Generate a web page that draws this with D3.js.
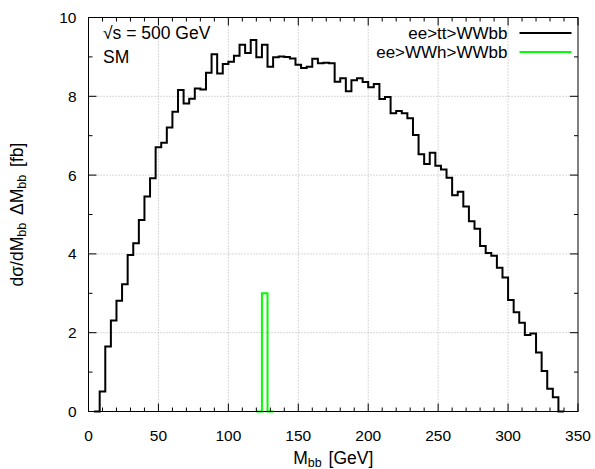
<!DOCTYPE html>
<meta charset="utf-8">
<script src="https://d3js.org/d3.v7.min.js"></script>
<style>
  body { margin: 0; background: #fff; }
  text { font-family: "Liberation Sans", Arial, sans-serif; fill: #000; }
</style>
<div id="my_dataviz"></div>
<script>

  // histogram: 4 GeV bins, first bin edge at 4 GeV
  var binWidth = 4;
  var ttStart = 4;
  var ttValues = [0,
    0.51, 1.65, 2.31, 2.81, 3.23, 3.97, 4.27, 4.86, 5.46, 5.92,
    6.71, 6.82, 7.21, 7.61, 8.16, 7.82, 7.94, 8.20, 8.17, 8.60,
    9.07, 8.58, 8.82, 8.88, 9.03, 9.31, 9.10, 9.43, 8.99, 9.31,
    8.75, 8.99, 9.01, 9.00, 8.96, 8.80, 8.72, 8.75, 8.95, 8.84,
    8.85, 8.84, 8.37, 8.46, 8.13, 8.41, 8.46, 8.36, 8.23, 8.31,
    7.93, 7.98, 7.57, 7.63, 7.57, 7.44, 7.02, 6.53,
    6.28, 6.57, 6.24, 6.14, 5.93, 5.49, 5.58, 5.20, 4.83, 4.64, 4.20, 4.02,
    3.95, 3.65, 3.40, 2.83, 2.52, 2.25, 1.94, 1.98, 1.50, 1.03, 0.58, 0.36,
    0];
  var whStart = 120;
  var whValues = [0, 3.0, 0];

  var xTicks = [0, 50, 100, 150, 200, 250, 300, 350];
  var yTicks = [0, 2, 4, 6, 8, 10];
  var seriesNames = ["ee>tt>WWbb", "ee>WWh>WWbb"];
  var seriesColors = ["#000000", "#00ff00"];

  var margin = { top: 17.5, right: 17, bottom: 57.5, left: 88.5 },
    width = 595 - margin.left - margin.right,
    height = 469 - margin.top - margin.bottom;

  var svg = d3.select("#my_dataviz")
    .append("svg")
    .attr("width", 595)
    .attr("height", 469)
    .append("g")
    .attr("transform", "translate(" + margin.left + "," + margin.top + ")");

  var x = d3.scaleLinear().domain([0, 350]).range([0, width]),
    y = d3.scaleLinear().domain([0, 10]).range([height, 0]);

  // grid
  svg.append("g")
    .selectAll("line")
    .data(xTicks.slice(1, -1))
    .enter().append("line")
    .attr("x1", function (d) { return x(d); }).attr("x2", function (d) { return x(d); })
    .attr("y1", 0).attr("y2", height)
    .attr("stroke", "#b0b0b0").attr("stroke-width", 1).attr("stroke-dasharray", "1,2");
  svg.append("g")
    .selectAll("line")
    .data(yTicks.slice(1, -1))
    .enter().append("line")
    .attr("y1", function (d) { return y(d); }).attr("y2", function (d) { return y(d); })
    .attr("x1", 0).attr("x2", width)
    .attr("stroke", "#b0b0b0").attr("stroke-width", 1).attr("stroke-dasharray", "1,2");

  // build step points from bins
  function stepPoints(start, values) {
    var pts = values.map(function (v, i) { return { x: start + i * binWidth, y: v }; });
    pts.push({ x: start + values.length * binWidth, y: values[values.length - 1] });
    return pts;
  }

  var stepLine = d3.line()
    .x(function (d) { return x(d.x); })
    .y(function (d) { return y(d.y); })
    .curve(d3.curveStepAfter);

  svg.append("path")
    .datum(stepPoints(whStart, whValues))
    .attr("d", stepLine)
    .attr("fill", "none")
    .attr("stroke", seriesColors[1])
    .attr("stroke-width", 2);

  svg.append("path")
    .datum(stepPoints(ttStart, ttValues))
    .attr("d", stepLine)
    .attr("fill", "none")
    .attr("stroke", seriesColors[0])
    .attr("stroke-width", 2);

  // frame with inward ticks (mirrored)
  var xMinor = d3.range(0, 351, 10), yMinor = d3.range(0, 10.01, 1);
  var ticks = svg.append("g").attr("stroke", "#000").attr("stroke-width", 1);
  xMinor.forEach(function (t) {
    var len = (t % 50 === 0) ? 8 : 4;
    ticks.append("line").attr("x1", x(t)).attr("x2", x(t)).attr("y1", height).attr("y2", height - len);
    ticks.append("line").attr("x1", x(t)).attr("x2", x(t)).attr("y1", 0).attr("y2", len);
  });
  yMinor.forEach(function (t) {
    var len = (t % 2 === 0) ? 8 : 4;
    ticks.append("line").attr("y1", y(t)).attr("y2", y(t)).attr("x1", 0).attr("x2", len);
    ticks.append("line").attr("y1", y(t)).attr("y2", y(t)).attr("x1", width).attr("x2", width - len);
  });
  svg.append("rect")
    .attr("width", width).attr("height", height)
    .attr("fill", "none").attr("stroke", "#000").attr("stroke-width", 1);

  // tick labels
  svg.append("g").selectAll("text").data(xTicks).enter().append("text")
    .attr("x", function (d) { return x(d); })
    .attr("y", height + 29)
    .attr("text-anchor", "middle")
    .style("font-size", "15.5px")
    .text(function (d) { return d; });
  svg.append("g").selectAll("text").data(yTicks).enter().append("text")
    .attr("x", -12)
    .attr("y", function (d) { return y(d) + 5.5; })
    .attr("text-anchor", "end")
    .style("font-size", "15.5px")
    .text(function (d) { return d; });

  // axis titles
  var xl = svg.append("text")
    .attr("x", width / 2)
    .attr("y", height + 52)
    .attr("text-anchor", "middle")
    .style("font-size", "17.5px");
  xl.append("tspan").text("M");
  xl.append("tspan").attr("baseline-shift", "-25%").style("font-size", "12.5px").text("bb");
  xl.append("tspan").attr("dx", 2).text(" [GeV]");

  var yl = svg.append("text")
    .attr("transform", "translate(" + (-66) + "," + (height / 2) + ") rotate(-90)")
    .attr("text-anchor", "middle")
    .style("font-size", "17.5px");
  yl.append("tspan").text("d\u03c3/dM");
  yl.append("tspan").attr("baseline-shift", "-25%").style("font-size", "12.5px").text("bb");
  yl.append("tspan").attr("dx", 3).text(" \u0394M");
  yl.append("tspan").attr("baseline-shift", "-25%").style("font-size", "12.5px").text("bb");
  yl.append("tspan").attr("dx", 3).text(" [fb]");

  // annotations
  svg.append("text").attr("x", 14.5).attr("y", 21).style("font-size", "17.5px").text("\u221as = 500 GeV");
  svg.append("text").attr("x", 14.5).attr("y", 45.5).style("font-size", "17.5px").text("SM");

  // legend
  var legend = svg.append("g").selectAll("g").data(seriesNames).enter().append("g")
    .attr("transform", function (d, i) { return "translate(0," + (15.5 + i * 19) + ")"; });
  legend.append("text")
    .attr("x", 419)
    .attr("y", 5.5)
    .attr("text-anchor", "end")
    .style("font-size", "17px")
    .text(function (d) { return d; });
  legend.append("line")
    .attr("x1", 431).attr("x2", 483)
    .attr("stroke", function (d, i) { return seriesColors[i]; })
    .attr("stroke-width", 2);

</script>
